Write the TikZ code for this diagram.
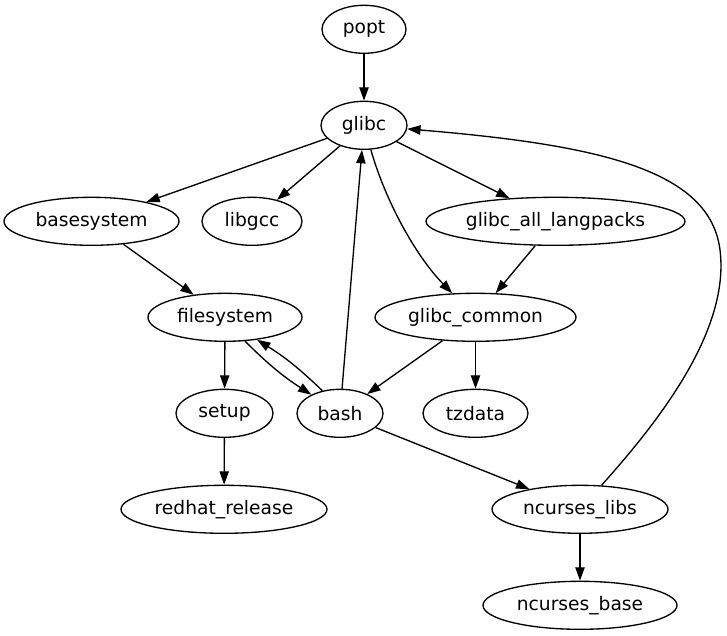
\documentclass[tikz,border=0pt]{standalone}
\usepackage{fontspec}
\setmainfont{DejaVu Sans}
\usetikzlibrary{arrows.meta,shapes.geometric}
\begin{document}
\begin{tikzpicture}[x=0.75pt,y=-0.75pt,
  pkg/.style={ellipse,draw,line width=1pt,inner sep=0pt,minimum height=36pt,
    font=\fontsize{14pt}{16pt}\selectfont},
  dep/.style={-{Triangle[length=10pt,width=7pt]},line width=1pt}]
\useasboundingbox (0,0) rectangle (727,635);
% nodes
\node[pkg,minimum width=63pt]     (popt)       at (364,29.3)   {popt};
\node[pkg,minimum width=64.5pt]   (glibc)      at (364,125.3)  {glibc};
\node[pkg,minimum width=131.25pt] (basesystem) at (91.5,221.3) {basesystem};
\node[pkg,minimum width=75pt]     (libgcc)     at (252,221.3)  {libgcc};
\node[pkg,minimum width=194.25pt] (langpacks)  at (555.5,221.3) {glibc\_all\_langpacks};
\node[pkg,minimum width=115.5pt]  (filesystem) at (225,317.3)  {filesystem};
\node[pkg,minimum width=150.75pt] (common)     at (475.5,317.3) {glibc\_common};
\node[pkg,minimum width=72.75pt]  (setup)      at (224.5,413.3) {setup};
\node[pkg,minimum width=64.5pt]   (bash)       at (340,413.3)  {bash};
\node[pkg,minimum width=78.75pt]  (tzdata)     at (475.5,413.3) {tzdata};
\node[pkg,minimum width=154.5pt]  (redhat)     at (224,509.3)  {redhat\_release};
\node[pkg,minimum width=132pt]    (nclibs)     at (580,509.3)  {ncurses\_libs};
\node[pkg,minimum width=145.5pt]  (ncbase)     at (580,605.3)  {ncurses\_base};
% edges
\draw[dep] (popt) -- (glibc);
\draw[dep] (glibc) -- (basesystem);
\draw[dep] (glibc) -- (libgcc);
\draw[dep] (glibc) -- (langpacks);
\draw[dep] (glibc) .. controls (385,200) and (415,255) .. (common);
\draw[dep] (langpacks) -- (common);
\draw[dep] (basesystem) -- (filesystem);
\draw[dep] (filesystem) -- (setup);
\draw[dep] (filesystem.310) to[bend right=6] (bash.147);
\draw[dep] (bash.128) to[bend right=6] (filesystem.325);
\draw[dep] (bash) -- (glibc);
\draw[dep] (common) -- (bash);
\draw[dep] (common) -- (tzdata);
\draw[dep] (setup) -- (redhat);
\draw[dep] (bash) -- (nclibs);
\draw[dep] (nclibs) .. controls (660,420) and (730,330) .. (720,250)
                    .. controls (710,170) and (600,145) .. (glibc);
\draw[dep] (nclibs) -- (ncbase);
\end{tikzpicture}
\end{document}
